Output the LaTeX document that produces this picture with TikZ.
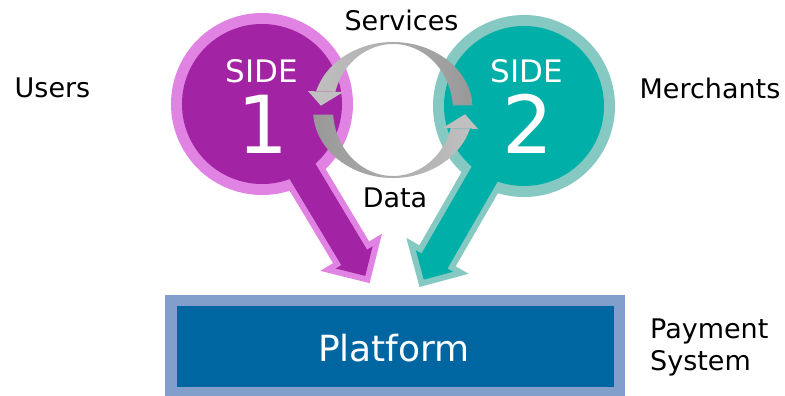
\documentclass[tikz,border=0pt]{standalone}
\usepackage{fontspec}
\setmainfont{DejaVu Sans}
\usetikzlibrary{calc}
\definecolor{purpleD}{HTML}{A323A5}
\definecolor{purpleL}{HTML}{E183E3}
\definecolor{tealD}{HTML}{00B0A8}
\definecolor{tealL}{HTML}{86C9C2}
\definecolor{grayL}{HTML}{C0C0C0}
\definecolor{grayD}{HTML}{989898}
\definecolor{blueD}{HTML}{0066A1}
\definecolor{blueL}{HTML}{819FCA}
\begin{document}
\begin{tikzpicture}[x=1pt,y=1pt,
  lbl/.style={inner sep=0pt, anchor=base, font=\fontsize{27}{32}\selectfont},
  sidetxt/.style={inner sep=0pt, anchor=base, text=white, font=\fontsize{31}{36}\selectfont},
  digit/.style={inner sep=0pt, anchor=base, text=white, font=\fontsize{80}{96}\selectfont}
]
\useasboundingbox (0,0) rectangle (785,-396);

% Side 1
\begin{scope}[shift={(262,-104)}, rotate=-59]
  \fill[purpleL] (0,0) circle[radius=91];
  \fill[purpleL] (0,-21) -- (173,-21) -- (173,-36) -- (209,0) -- (173,36) -- (173,21) -- (0,21) -- cycle;
  \fill[purpleD] (0,0) circle[radius=80];
  \fill[purpleD] (0,-15) -- (179,-15) -- (179,-21.5) -- (200.5,0) -- (179,21.5) -- (179,15) -- (0,15) -- cycle;
\end{scope}

% Side 2
\begin{scope}[shift={(524,-106)}, rotate=-120]
  \fill[tealL] (0,0) circle[radius=91];
  \fill[tealL] (0,-21) -- (173,-21) -- (173,-36) -- (209,0) -- (173,36) -- (173,21) -- (0,21) -- cycle;
  \fill[tealD] (0,0) circle[radius=80];
  \fill[tealD] (0,-15) -- (179,-15) -- (179,-21.5) -- (200.5,0) -- (179,21.5) -- (179,15) -- (0,15) -- cycle;
\end{scope}

% cycle arrows
\coordinate (O) at (393,-110);
\shade[left color=grayL, right color=grayD]
  ($(O)+(4:80 and 68)$) arc[start angle=4, end angle=164, x radius=80, y radius=68]
  -- ($(O)+(164:60 and 66)$) arc[start angle=164, end angle=4, x radius=60, y radius=66] -- cycle;
\fill[grayL] (308.1,-91.1) -- (343.3,-92) -- (320.9,-105.7) -- cycle;
\shade[left color=grayD, right color=grayL]
  ($(O)+(184:80 and 68)$) arc[start angle=184, end angle=344, x radius=80, y radius=68]
  -- ($(O)+(344:60 and 66)$) arc[start angle=344, end angle=184, x radius=60, y radius=66] -- cycle;
\fill[grayL] (477.9,-128.9) -- (442.7,-128) -- (465.1,-114.2) -- cycle;

% texts in circles
\node[sidetxt] (s1a) at (262,-82.5) {SIDE};
\node[digit] (s1b) at (263,-153) {1};
\node[sidetxt] (s2a) at (527,-82.5) {SIDE};
\node[digit] (s2b) at (528,-153) {2};

% labels
\node[lbl] (services) at (401.5,-31) {Services};
\node[lbl] (data) at (395,-207) {Data};
\node[lbl] (users) at (52.5,-98) {Users};
\node[lbl] (merchants) at (710,-99) {Merchants};
\node[lbl, anchor=base west] (pay1) at (650,-338) {Payment};
\node[lbl, anchor=base west] (pay2) at (650,-370) {System};

% platform
\fill[blueL] (165,-295) rectangle (625,-396);
\fill[blueD] (177,-306) rectangle (614,-387);
\node[inner sep=0pt, anchor=base, text=white, font=\fontsize{36}{42}\selectfont] (platform) at (394,-361.5) {Platform};
\end{tikzpicture}
\end{document}
